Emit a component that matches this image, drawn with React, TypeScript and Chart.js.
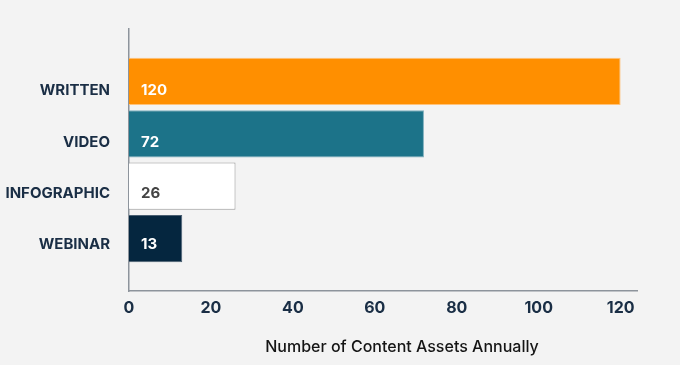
import React, { useEffect, useRef } from "react";
import { Chart, registerables } from "chart.js";

Chart.register(...registerables);

const categories = ["WRITTEN", "VIDEO", "INFOGRAPHIC", "WEBINAR"];
const values = [120, 72, 26, 13];
const barColors = ["#ff8f00", "#1c7389", "#ffffff", "#05263f"];
const barBorders = ["#ffc27a", "#7fb0bd", "#9a9a9a", "#4a5f72"];
const labelColors = ["#ffffff", "#ffffff", "#444444", "#ffffff"];
const xTicks = [0, 20, 40, 60, 80, 100, 120];
const xTitle = "Number of Content Assets Annually";

const FONT = "Inter, 'Noto Sans', sans-serif";

// bar slots: an empty slot above and below the four categories
const slotLabels = ["", ...categories, ""];
const slotValues = [null, ...values, null];
const slotColors = ["#ffffff", ...barColors, "#ffffff"];
const slotBorders = ["#ffffff", ...barBorders, "#ffffff"];

const barLabelPlugin = {
  id: "barLabels",
  afterDatasetsDraw(chart: any) {
    const ctx = chart.ctx;
    const meta = chart.getDatasetMeta(0);
    const labelScale = chart.scales.yl;
    ctx.save();
    ctx.font = `bold 15px ${FONT}`;
    ctx.textBaseline = "middle";
    ctx.textAlign = "left";
    categories.forEach((_c, i) => {
      const el = meta.data[i + 1];
      if (!el) return;
      ctx.fillStyle = labelColors[i];
      ctx.fillText(String(values[i]), el.base + 12, labelScale.getPixelForValue(i + 1) + 1);
    });
    ctx.restore();
  },
};

const axisTitlePlugin = {
  id: "axisTitle",
  afterDraw(chart: any) {
    const ctx = chart.ctx;
    const x = chart.scales.x;
    ctx.save();
    ctx.font = `500 16px ${FONT}`;
    ctx.fillStyle = "#151515";
    ctx.textAlign = "center";
    ctx.textBaseline = "middle";
    ctx.fillText(xTitle, (x.left + x.right) / 2 + 19, x.top + 56);
    ctx.restore();
  },
};

const bgPlugin = {
  id: "bg",
  beforeDraw(chart: any) {
    const ctx = chart.ctx;
    ctx.save();
    ctx.fillStyle = "#f3f3f3";
    ctx.fillRect(0, 0, chart.width, chart.height);
    ctx.restore();
  },
};

export default function App() {
  const ref = useRef<HTMLCanvasElement | null>(null);
  useEffect(() => {
    document.body.style.margin = "0";
    document.body.style.background = "#f3f3f3";
    const chart = new Chart(ref.current as HTMLCanvasElement, {
      type: "bar",
      data: {
        labels: slotLabels,
        datasets: [
          {
            data: slotValues as any,
            backgroundColor: slotColors,
            borderColor: slotBorders,
            borderWidth: 1,
            barPercentage: 0.9,
            categoryPercentage: 1,
            yAxisID: "y",
          },
        ],
      },
      options: {
        indexAxis: "y",
        animation: false,
        responsive: false,
        maintainAspectRatio: false,
        layout: { padding: { top: 29, right: 43, left: 0, bottom: 0 } },
        plugins: { legend: { display: false }, tooltip: { enabled: false } },
        scales: {
          x: {
            type: "linear",
            min: 0,
            max: 124,
            afterBuildTicks(scale: any) {
              scale.ticks = xTicks.map((v) => ({ value: v }));
            },
            grid: { display: false, drawTicks: false },
            border: { display: true, color: "#8d949c", width: 1.5 },
            ticks: {
              padding: 8,
              color: "#1a2e45",
              font: { family: FONT, size: 16, weight: "bold" },
            },
            afterFit(scale: any) {
              scale.height = 74;
            },
          },
          y: {
            type: "category",
            offset: false,
            display: false,
          },
          yl: {
            type: "linear",
            position: "left",
            reverse: true,
            offset: false,
            min: -0.19,
            max: 4.93,
            afterBuildTicks(scale: any) {
              scale.ticks = categories.map((_c, i) => ({ value: i + 1 }));
            },
            grid: { display: false, drawTicks: false },
            border: { display: true, color: "#8d949c", width: 1.5 },
            ticks: {
              padding: 19,
              labelOffset: 1,
              color: "#1a2e45",
              font: { family: FONT, size: 15, weight: "bold" },
              callback: (v: any) => categories[Math.round(v) - 1] ?? "",
            },
            afterFit(scale: any) {
              scale.width = 129;
            },
          },
        },
      },
      plugins: [bgPlugin, barLabelPlugin, axisTitlePlugin],
    } as any);
    return () => chart.destroy();
  }, []);
  return <canvas ref={ref} width={680} height={365} style={{ display: "block" }} />;
}
